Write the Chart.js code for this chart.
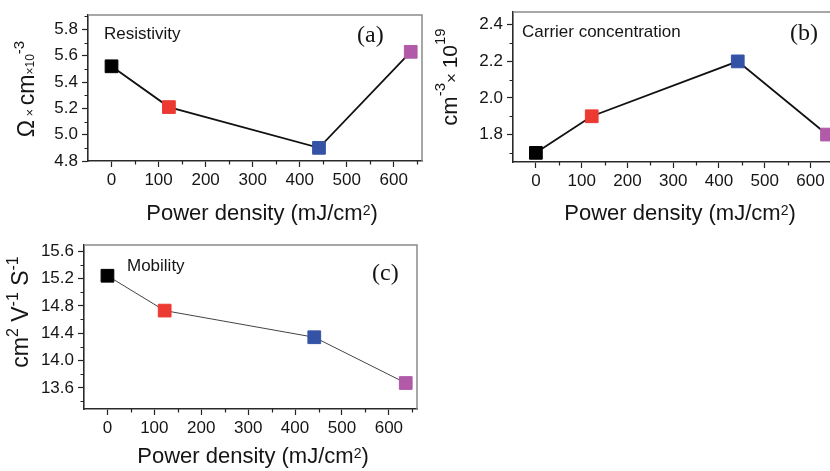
<!DOCTYPE html>
<html><head><meta charset="utf-8">
<script src="https://cdn.jsdelivr.net/npm/chart.js@4.4.1/dist/chart.umd.min.js"></script>
<style>
html,body{margin:0;padding:0;background:#fff;overflow:hidden;width:830px;height:471px;position:relative}
.p{position:absolute}
</style></head><body>
<div class="p" style="left:0;top:0;width:440px;height:230px"><canvas id="ca"></canvas></div>
<div class="p" style="left:420px;top:0;width:440px;height:230px"><canvas id="cb"></canvas></div>
<div class="p" style="left:0;top:230px;width:440px;height:241px"><canvas id="cc"></canvas></div>
<script>
// ---- data ----
const powerDensity = [0, 122, 441, 636];
const resistivity = [5.52, 5.21, 4.90, 5.63];
const carrierConc = [1.70, 1.90, 2.20, 1.80];
const mobility = [15.24, 14.73, 14.34, 13.67];
const markerColors = ['#000000', '#ec3a33', '#3453a6', '#b05aa8'];

const xTickValues = [0, 100, 200, 300, 400, 500, 600];
const xMinorValues = [50, 150, 250, 350, 450, 550, 650];
const yTicksA = [4.8, 5.0, 5.2, 5.4, 5.6, 5.8];
const yMinorA = [4.9, 5.1, 5.3, 5.5, 5.7, 5.9];
const yTicksB = [1.8, 2.0, 2.2, 2.4];
const yMinorB = [1.7, 1.9, 2.1, 2.3];
const yTicksC = [13.6, 14.0, 14.4, 14.8, 15.2, 15.6];
const yMinorC = [13.4, 13.8, 14.2, 14.6, 15.0, 15.4];

const SANS = "'Liberation Sans', Arial, Helvetica, sans-serif";
const SERIF = "'Liberation Serif', 'Times New Roman', serif";
const INK = '#151515';

function richText(ctx, segs, x, y, rotate) {
  ctx.save();
  ctx.translate(x, y);
  if (rotate) ctx.rotate(-Math.PI / 2);
  ctx.textBaseline = 'alphabetic';
  ctx.textAlign = 'left';
  ctx.fillStyle = INK;
  let total = 0;
  segs.forEach(s => { ctx.font = s.s + 'px ' + SANS; s.w = ctx.measureText(s.t).width; total += s.w; });
  let cx = -total / 2;
  segs.forEach(s => { ctx.font = s.s + 'px ' + SANS; ctx.fillText(s.t, cx, s.dy || 0); cx += s.w; });
  ctx.restore();
}

function makePanel(id, o) {
  const deco = {
    id: 'deco',
    afterDraw(chart) {
      const ctx = chart.ctx;
      const a = chart.chartArea;
      const xs = chart.scales.x, ys = chart.scales.y;
      ctx.save();
      // top and right frame
      ctx.strokeStyle = '#8a8a8a';
      ctx.lineWidth = 1.5;
      ctx.beginPath();
      ctx.moveTo(a.left, a.top); ctx.lineTo(a.right, a.top); ctx.lineTo(a.right, a.bottom);
      ctx.stroke();
      // minor ticks
      ctx.strokeStyle = '#222';
      ctx.lineWidth = 1.2;
      ctx.beginPath();
      xMinorValues.forEach(v => {
        if (v <= xs.min || v >= xs.max) return;
        const px = Math.round(xs.getPixelForValue(v)) + 0.5;
        ctx.moveTo(px, a.bottom); ctx.lineTo(px, a.bottom + 3.5);
      });
      o.yMinor.forEach(v => {
        if (v <= ys.min || v >= ys.max) return;
        const py = Math.round(ys.getPixelForValue(v)) + 0.5;
        ctx.moveTo(a.left, py); ctx.lineTo(a.left - 3.5, py);
      });
      ctx.stroke();
      ctx.restore();
      // titles
      richText(ctx, o.yTitle, o.yTitlePos[0] - o.off[0], o.yTitlePos[1] - o.off[1], true);
      richText(ctx, [{t:'Power density (mJ/cm', s:22}, {t:'2', s:14, dy:-5}, {t:')', s:22}],
               o.xTitlePos[0] - o.off[0], o.xTitlePos[1] - o.off[1], false);
      ctx.save();
      ctx.fillStyle = INK;
      ctx.textBaseline = 'alphabetic';
      ctx.textAlign = 'left';
      ctx.font = '17px ' + SANS;
      ctx.fillText(o.label, o.labelPos[0] - o.off[0], o.labelPos[1] - o.off[1]);
      ctx.font = '24px ' + SERIF;
      ctx.fillText(o.letter, o.letterPos[0] - o.off[0], o.letterPos[1] - o.off[1]);
      ctx.restore();
    }
  };
  return new Chart(document.getElementById(id), {
    type: 'line',
    data: {
      datasets: [{
        data: powerDensity.map((x, i) => ({ x: x, y: o.values[i] })),
        borderColor: o.lineColor,
        borderWidth: o.lineWidth,
        pointStyle: 'rect',
        pointRadius: 9,
        pointHoverRadius: 9,
        pointBackgroundColor: markerColors,
        pointBorderColor: markerColors,
        pointBorderWidth: 1,
        tension: 0,
        fill: false,
        clip: false
      }]
    },
    options: {
      responsive: true,
      maintainAspectRatio: false,
      animation: false,
      events: [],
      layout: { padding: o.padding },
      plugins: { legend: { display: false }, tooltip: { enabled: false } },
      scales: {
        x: {
          type: 'linear', min: -50, max: 660,
          afterBuildTicks: s => { s.ticks = xTickValues.map(v => ({ value: v })); },
          afterFit: s => { s.height = 30; s.paddingLeft = 0; s.paddingRight = 0; },
          grid: { drawOnChartArea: false, drawTicks: true, tickLength: 6, tickWidth: 1.2, tickColor: '#222' },
          border: { display: true, color: '#2a2a2a', width: 1.6 },
          ticks: { font: { family: SANS, size: 17 }, color: INK, padding: 3, maxRotation: 0, autoSkip: false,
                   callback: v => String(v) }
        },
        y: {
          type: 'linear', min: o.yMin, max: o.yMax,
          afterBuildTicks: s => { s.ticks = o.yTicks.map(v => ({ value: v })); },
          afterFit: s => { s.width = o.yAxisW; s.paddingTop = 0; s.paddingBottom = 0; },
          grid: { drawOnChartArea: false, drawTicks: true, tickLength: 6, tickWidth: 1.2, tickColor: '#222' },
          border: { display: true, color: '#2a2a2a', width: 1.6 },
          ticks: { font: { family: SANS, size: 17 }, color: INK, padding: 4, autoSkip: false,
                   callback: v => Number(v).toFixed(1) }
        }
      }
    },
    plugins: [deco]
  });
}

makePanel('ca', {
  off: [0, 0], values: resistivity, lineColor: '#111', lineWidth: 1.8,
  yMin: 4.8, yMax: 5.91, yTicks: yTicksA, yMinor: yMinorA, yAxisW: 88,
  padding: { top: 15, right: 18, bottom: 39, left: 0 },
  yTitle: [{t:'Ω', s:23}, {t:' × ', s:13}, {t:'cm', s:23}, {t:'×10', s:12}, {t:'-3', s:15, dy:-10}],
  yTitlePos: [34, 89], xTitlePos: [262, 220],
  label: 'Resistivity', labelPos: [104, 39], letter: '(a)', letterPos: [357, 41.5]
});
makePanel('cb', {
  off: [420, 0], values: carrierConc, lineColor: '#111', lineWidth: 1.8,
  yMin: 1.65, yMax: 2.47, yTicks: yTicksB, yMinor: yMinorB, yAxisW: 93,
  padding: { top: 12, right: 22, bottom: 38, left: 0 },
  yTitle: [{t:'cm', s:22}, {t:'-3', s:15, dy:-12}, {t:'× ', s:17}, {t:'10', s:21}, {t:'19', s:15, dy:-12}],
  yTitlePos: [457, 77], xTitlePos: [680, 220],
  label: 'Carrier concentration', labelPos: [522, 37], letter: '(b)', letterPos: [790, 40]
});
makePanel('cc', {
  off: [0, 230], values: mobility, lineColor: '#444', lineWidth: 1,
  yMin: 13.29, yMax: 15.69, yTicks: yTicksC, yMinor: yMinorC, yAxisW: 84,
  padding: { top: 15, right: 23, bottom: 32, left: 0 },
  yTitle: [{t:'cm', s:23}, {t:'2', s:16, dy:-10}, {t:' V', s:23}, {t:'-1', s:16, dy:-10}, {t:' S', s:23}, {t:'-1', s:16, dy:-10}],
  yTitlePos: [28, 312], xTitlePos: [253, 463],
  label: 'Mobility', labelPos: [127, 270.5], letter: '(c)', letterPos: [372, 280]
});
</script>
</body></html>
